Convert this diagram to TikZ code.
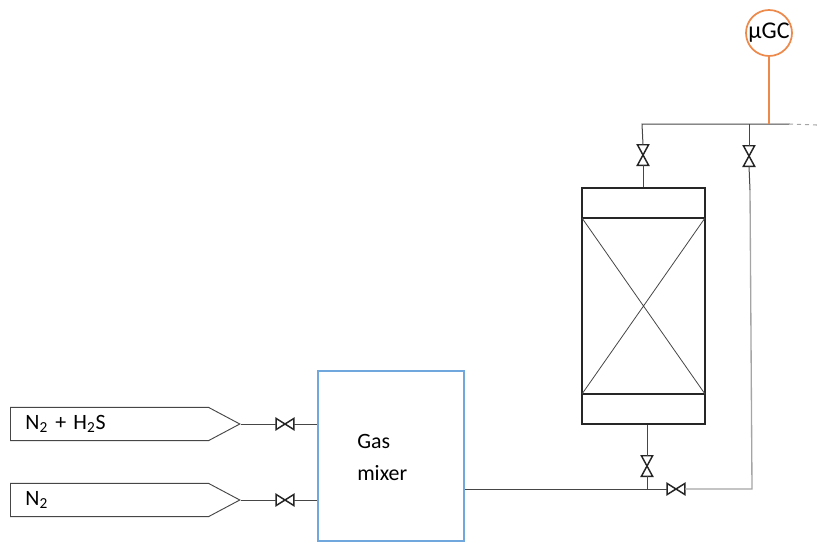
\documentclass[tikz,border=0pt]{standalone}
\usepackage{fontspec}
\setmainfont{Carlito}
\usetikzlibrary{calc,positioning,shapes.symbols}
\definecolor{MixerBlue}{RGB}{112,168,222}
\definecolor{GcOrange}{RGB}{237,137,74}
\definecolor{PipeGrey}{RGB}{70,70,70}
\definecolor{PaleGrey}{RGB}{165,165,165}
\tikzset{
  pipe/.style={PipeGrey,line width=0.75pt},
  palepipe/.style={PaleGrey,line width=1pt},
  sourcebox/.style={draw=PipeGrey,line width=0.7pt,shape=signal,signal to=east,signal pointer angle=56,
    anchor=west,align=left,text width=168pt*0.75,minimum height=25pt,inner xsep=11.25pt,inner ysep=0pt,font=\fontsize{16.4}{18}\selectfont},
  vessel/.style={draw=black!85,line width=1.3pt,inner sep=0pt}
}
\newcommand{\hvalve}[2]{%
  \node[inner sep=0pt,minimum width=13pt,minimum height=8pt] (#1) at (#2) {};
  \draw[black!85,line width=1.1pt] (#1.north west)--(#1.south east)--(#1.north east)--(#1.south west)--cycle;}
\newcommand{\vvalve}[2]{%
  \node[inner sep=0pt,minimum width=8pt,minimum height=15pt] (#1) at (#2) {};
  \draw[black!85,line width=1.1pt] (#1.north west)--(#1.north east)--(#1.south west)--(#1.south east)--cycle;}

\begin{document}
\begin{tikzpicture}[x=0.75pt,y=-0.75pt]
  \useasboundingbox (0,0) rectangle (817,543);
  % feeds
  \node[sourcebox] (feedmix) at (10,424) {N\textsubscript{2} + H\textsubscript{2}S};
  \node[sourcebox] (feedn) at (10,500) {N\textsubscript{2}};
  \hvalve{vmix}{285,424}
  \hvalve{vn}{285,500}
  % mixer
  \node[draw=MixerBlue,line width=1.3pt,minimum width=109.5pt,minimum height=127.5pt,inner sep=0pt] (mixer) at (391,456) {};
  \node[anchor=west,inner sep=0pt,align=left,font=\fontsize{16.4}{24}\selectfont] (mixerlabel) at (357,457) {Gas\\mixer};
  % reactor
  \node[vessel,minimum width=92.25pt,minimum height=177pt] (reactor) at (643.5,306) {};
  \coordinate (bedtl) at (582,218);
  \coordinate (bedtr) at (705,218);
  \coordinate (bedbl) at (582,394);
  \coordinate (bedbr) at (705,394);
  \draw[vessel] (bedtl)--(bedtr) (bedbl)--(bedbr);
  \draw[PipeGrey,line width=0.6pt] (bedtl)--(bedbr) (bedtr)--(bedbl);
  \vvalve{vtop}{643,155}
  \vvalve{vby}{749,156}
  \vvalve{vbot}{647,466}
  \hvalve{vlow}{676,489}
  % GC
  \node[circle,draw=GcOrange,line width=1.3pt,minimum size=34.5pt,inner sep=0pt,font=\fontsize{18}{20}\selectfont] (gc) at (769,33) {µGC};
  \coordinate (hdrl) at (642,124);
  \coordinate (hdrb) at (748,124);
  \coordinate (hdro) at (769,124);
  \coordinate (hdrr) at (789,124);
  \coordinate (vent) at (817,125);
  \coordinate (tee) at (647,489);
  \coordinate (cnr) at (752,489);
  \coordinate (bystub) at (750,190);
  % pipes
  \draw[pipe] (feedmix.east)--(vmix.west) (vmix.east)--(mixer.west |- vmix.east);
  \draw[pipe] (feedn.east)--(vn.west) (vn.east)--(mixer.west |- vn.east);
  \draw[pipe] (mixer.east |- tee)--(tee)--(vbot.south -| tee);
  \draw[pipe] (vbot.north)--(vbot.north |- reactor.south);
  \draw[pipe] (tee)--(vlow.west);
  \draw[palepipe] (vlow.east)--(cnr)--(bystub);
  \draw[pipe] (vby.south)--(bystub);
  \draw[pipe] (vby.north)--(vby.north |- hdrb);
  \draw[pipe] (reactor.north -| vtop)--(vtop.south);
  \draw[pipe] (vtop.north)--(hdrl)--(hdrr);
  \draw[PaleGrey,line width=0.8pt,dashed] (hdrr)--(vent);
  \draw[GcOrange,line width=1.1pt] (gc.south)--(hdro);
\end{tikzpicture}
\end{document}
